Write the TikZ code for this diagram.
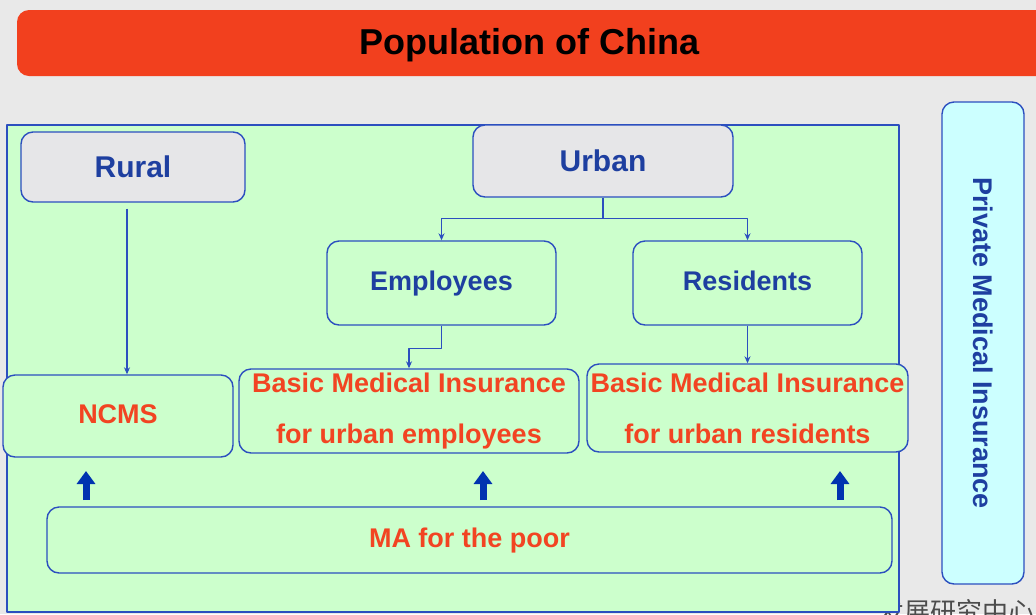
\documentclass[tikz,border=0pt]{standalone}
\usepackage{fontspec}
\setmainfont{Liberation Sans}
\newfontfamily\cjk{Noto Sans CJK SC}
\usetikzlibrary{arrows.meta}
\definecolor{bgGray}{HTML}{E9E9E9}
\definecolor{titleRed}{HTML}{F2401E}
\definecolor{panelGreen}{HTML}{CCFFCC}
\definecolor{sideCyan}{HTML}{CCFFFF}
\definecolor{lineBlue}{HTML}{2C4FBF}
\definecolor{txtBlue}{HTML}{1E3FA0}
\definecolor{txtRed}{HTML}{F24422}
\definecolor{fatBlue}{HTML}{0033B0}
\definecolor{nodeGray}{HTML}{E6E6E8}
\tikzset{
  box/.style={draw=lineBlue, line width=1.4pt, rounded corners=12pt, fill=panelGreen,
    text=txtBlue, inner sep=0pt, align=center},
  single/.style={box, text height=20pt, text depth=6pt},
  graybox/.style={box, fill=nodeGray, text height=24pt, text depth=4pt, font=\bfseries\fontsize{30}{34}\selectfont},
  plan/.style={single, text=txtRed},
  plan2/.style={box, text=txtRed, font=\bfseries\fontsize{27}{51}\selectfont},
  link/.style={draw=lineBlue, line width=1.2pt, -{Stealth[length=7pt,width=6pt]}},
  fat/.style={draw=fatBlue, line width=7pt, -{Triangle[width=18pt,length=13pt]}}
}
\begin{document}
\begin{tikzpicture}[x=1pt, y=-1pt, line join=round, font=\bfseries\fontsize{27}{31}\selectfont]
				\clip (0,0) rectangle (1036,614);
				\fill[bgGray] (0,0) rectangle (1036,614);
				% title bar
				\fill[titleRed, rounded corners=12pt] (17,10) rectangle (1070,76);
				\node[font=\bfseries\fontsize{36}{40}\selectfont, text height=26pt, text depth=8pt] (title) at (529.5,45) {Population of China};
				% source line, half under the panel
				\node[anchor=base west, text=black!70, font=\cjk\fontsize{26}{30}\selectfont, inner sep=0pt] (src) at (878,621) {发展研究中心};
				% panel and side box
				\draw[draw=lineBlue, line width=1.5pt, fill=panelGreen] (7,125) rectangle (899,612);
				\node[box, fill=sideCyan, rotate=-90, minimum width=482, minimum height=82] (private) at (983,343) {Private Medical Insurance};
				% groups
				\node[graybox, minimum width=224, minimum height=70] (rural) at (133,167) {Rural};
				\node[graybox, minimum width=260, minimum height=72] (urban) at (603,161) {Urban};
				\node[single, minimum width=229, minimum height=84] (employees) at (441.5,283) {Employees};
				\node[single, minimum width=229, minimum height=84] (residents) at (747.5,283) {Residents};
				% schemes
				\node[plan, minimum width=230, minimum height=82] (ncms) at (118,416) {NCMS};
				\node[plan2, minimum width=340, minimum height=84] (bmie) at (409,411) {Basic Medical Insurance\\for urban employees};
				\node[plan2, minimum width=321, minimum height=88] (bmir) at (747.5,408) {Basic Medical Insurance\\for urban residents};
				\node[plan, minimum width=845, minimum height=66] (ma) at (469.5,540) {MA for the poor};
				% connectors
				\draw[link] ([xshift=-6pt,yshift=-6pt]rural.south) -- ([xshift=-6pt]rural.south |- ncms.north);
				\draw[link, -] (urban.south) -- ++(0,21) coordinate (split);
				\draw[link] (split) -| (employees.north);
				\draw[link] (split) -| (residents.north);
				\draw[link] (employees.south) -- ++(0,23) -| (bmie.north);
				\draw[link] (residents.south) -- (bmir.north);
				\foreach \x in {86,483,840} \draw[fat] (\x,500) -- (\x,471);
			\end{tikzpicture}
\end{document}
